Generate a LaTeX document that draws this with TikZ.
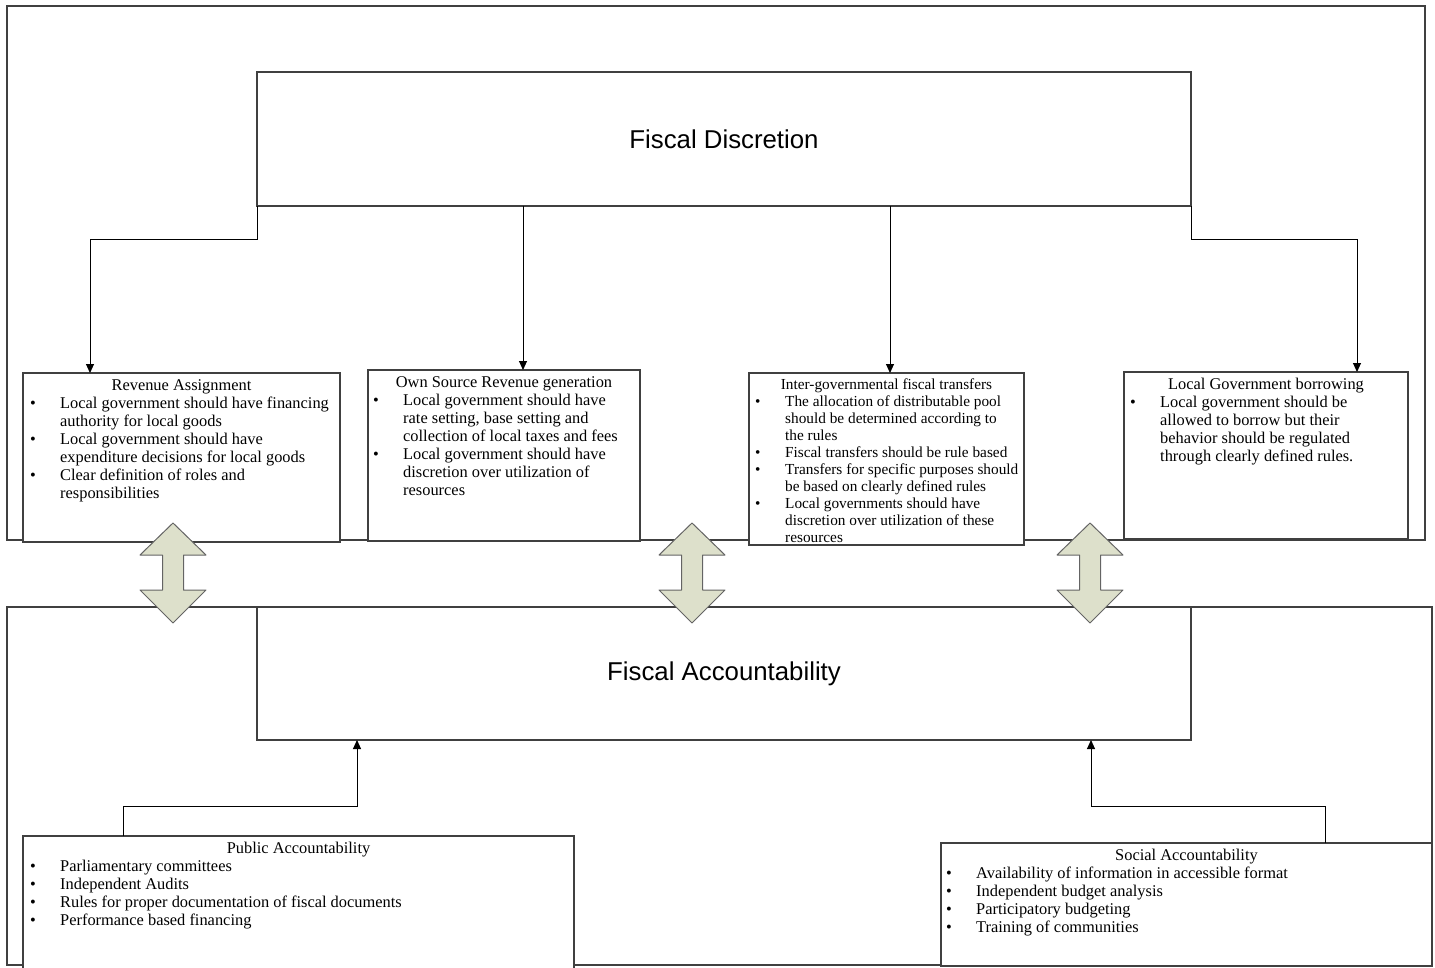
\documentclass[tikz,border=0pt]{standalone}
\usepackage{fontspec}
\setmainfont{Liberation Serif}
\setsansfont{Liberation Sans}
\usetikzlibrary{positioning, arrows.meta}
\definecolor{edgegray}{RGB}{64,64,64}
\definecolor{sage}{RGB}{221,224,203}
\definecolor{sageline}{RGB}{100,100,100}
\newcommand{\bodyitem}{\makebox[30pt][l]{\textbullet}}
\newcommand{\bodycont}{\makebox[30pt]{}}
\tikzset{
  panel/.style={draw=edgegray, line width=1.3pt, fill=white, anchor=north west, inner sep=0pt, outer sep=0pt},
  headline/.style={font=\sffamily\fontsize{25.8}{30}\selectfont},
  caption/.style={inner sep=0pt, font=\fontsize{16.4}{18}\selectfont},
  bullets/.style={inner sep=0pt, align=left, font=\fontsize{16.4}{18}\selectfont},
  link/.style={-{Triangle[width=8pt,length=9pt]}, line width=1pt},
  twoway/.style={draw=sageline, fill=sage, line width=1pt, line join=round}
}
\begin{document}
\begin{tikzpicture}[x=1pt, y=-1pt]
    \useasboundingbox (0,0) rectangle (1435,968);
    \clip (0,0) rectangle (1435,968);

    % Upper frame
    \draw[edgegray, line width=1.3pt] (7,6) rectangle (1425,540);
    \node[panel, minimum width=934pt, minimum height=134pt, headline] (FD) at (257,72) {Fiscal Discretion};

    \node[panel, minimum width=317pt, minimum height=169pt] (RA) at (23,373) {};
    \node[caption, below=6pt of RA.north] (RAt) {Revenue Assignment};
    \node[bullets, below right=24pt and 7pt of RA.north west] (RAb) {%
      \bodyitem Local government should have financing\\
      \bodycont authority for local goods\\
      \bodyitem Local government should have\\
      \bodycont expenditure decisions for local goods\\
      \bodyitem Clear definition of roles and\\
      \bodycont responsibilities};

    \node[panel, minimum width=272pt, minimum height=171pt] (OS) at (368,370) {};
    \node[caption, below=6pt of OS.north] (OSt) {Own Source Revenue generation};
    \node[bullets, below right=24pt and 5pt of OS.north west] (OSb) {%
      \bodyitem Local government should have\\
      \bodycont rate setting, base setting and\\
      \bodycont collection of local taxes and fees\\
      \bodyitem Local government should have\\
      \bodycont discretion over utilization of\\
      \bodycont resources};

    \node[panel, minimum width=275pt, minimum height=172pt] (IT) at (749,373) {};
    \node[caption, font=\fontsize{15.3}{17}\selectfont, below=5.5pt of IT.north] (ITt) {Inter-governmental fiscal transfers};
    \node[bullets, font=\fontsize{15.3}{17}\selectfont, below right=22.5pt and 6pt of IT.north west] (ITb) {%
      \bodyitem The allocation of distributable pool\\
      \bodycont should be determined according to\\
      \bodycont the rules\\
      \bodyitem Fiscal transfers should be rule based\\
      \bodyitem Transfers for specific purposes should\\
      \bodycont be based on clearly defined rules\\
      \bodyitem Local governments should have\\
      \bodycont discretion over utilization of these\\
      \bodycont resources};

    \node[panel, minimum width=284pt, minimum height=167pt] (LB) at (1124,372) {};
    \node[caption, below=6pt of LB.north] (LBt) {Local Government borrowing};
    \node[bullets, below right=24pt and 6pt of LB.north west] (LBb) {%
      \bodyitem Local government should be\\
      \bodycont allowed to borrow but their\\
      \bodycont behavior should be regulated\\
      \bodycont through clearly defined rules.};

    % Paths down
    \draw[link] (FD.south west) -- ++(0,34) -| ([xshift=67pt]RA.north west);
    \draw[link] ([xshift=155pt]OS.north west |- FD.south) -- ([xshift=155pt]OS.north west);
    \draw[link] ([xshift=141pt]IT.north west |- FD.south) -- ([xshift=141pt]IT.north west);
    \draw[link] (FD.south east) -- ++(0,34) -| ([xshift=-51pt]LB.north east);

    % Lower frame
    \draw[edgegray, line width=1.3pt] (7,607) rectangle (1432,965);
    \node[panel, minimum width=934pt, minimum height=133pt, headline] (FA) at (257,607) {Fiscal Accountability};

    \node[panel, minimum width=551pt, minimum height=140pt] (PA) at (23,836) {};
    \node[caption, below=6pt of PA.north] (PAt) {Public Accountability};
    \node[bullets, below right=24pt and 7pt of PA.north west] (PAb) {%
      \bodyitem Parliamentary committees\\
      \bodyitem Independent Audits\\
      \bodyitem Rules for proper documentation of fiscal documents\\
      \bodyitem Performance based financing};

    \node[panel, minimum width=491pt, minimum height=123pt] (SA) at (941,843) {};
    \node[caption, below=6pt of SA.north] (SAt) {Social Accountability};
    \node[bullets, below right=24pt and 5pt of SA.north west] (SAb) {%
      \bodyitem Availability of information in accessible format\\
      \bodyitem Independent budget analysis\\
      \bodyitem Participatory budgeting\\
      \bodyitem Training of communities};

    % Paths up
    \draw[link] ([xshift=100pt]PA.north west) -- ++(0,-30) -| ([xshift=100pt]FA.south west);
    \draw[link] ([xshift=-107pt]SA.north east) -- ++(0,-37) -| ([xshift=-100pt]FA.south east);

    % Two-way arrows between the frames
    \foreach \x in {173,692,1090}
      \draw[twoway] (\x,523) -- ++(33,32) -- ++(-22.5,0) -- ++(0,35) -- ++(22.5,0)
        -- ++(-33,33) -- ++(-33,-33) -- ++(22.5,0) -- ++(0,-35) -- ++(-22.5,0) -- cycle;
\end{tikzpicture}
\end{document}
